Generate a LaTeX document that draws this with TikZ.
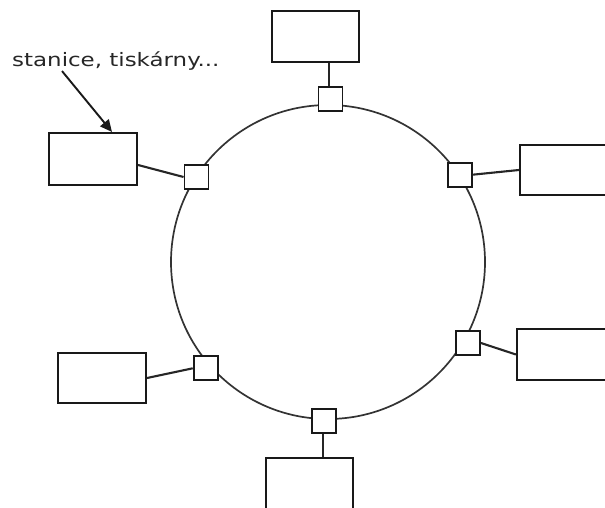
\documentclass[tikz,border=0pt]{standalone}
\usepackage{fontspec}
\setmainfont{DejaVu Sans}
\usetikzlibrary{arrows.meta}
\tikzset{
  station/.style={draw=black!90, line width=2.1pt, fill=white, minimum width=88pt, minimum height=51pt, inner sep=0pt},
  tap/.style={draw=black!90, line width=1.9pt, fill=white, minimum width=24pt, minimum height=24pt, inner sep=0pt},
  link/.style={draw=black!85, line width=2.1pt},
  ring/.style={draw=black!80, line width=1.7pt},
  pointer/.style={draw=black!90, line width=1.9pt, -{Triangle[length=12pt,width=11pt]}}
}
\begin{document}
\begin{tikzpicture}[x=1pt,y=-1pt]
\useasboundingbox (0,0) rectangle (605,508);
\clip (0,0) rectangle (605,508);
% ring
\draw[ring] (328,262) circle[radius=157];
% stations
\node[station, minimum width=87pt] (boxT)  at (315.5,36.5) {};
\node[station, minimum height=52pt] (boxL)  at (93,159) {};
\node[station, minimum width=90pt, minimum height=50pt] (boxRT) at (565,170) {};
\node[station, minimum width=90pt] (boxRB) at (562,354.5) {};
\node[station, minimum height=50pt] (boxLB) at (102,378) {};
\node[station, minimum width=87pt, minimum height=52pt] (boxB)  at (309.5,484) {};
% taps on the ring
\node[tap] (sqT)  at (330.5,99) {};
\node[tap] (sqL)  at (196.5,177) {};
\node[tap] (sqRT) at (459.7,174.7) {};
\node[tap] (sqRB) at (468,343) {};
\node[tap] (sqLB) at (205.7,368.3) {};
\node[tap] (sqB)  at (324,421.3) {};
% links
\draw[link] ([xshift=-1.5pt]sqT.north) -- ([xshift=-1.5pt]sqT.north |- boxT.south);
\draw[link] ([yshift=-6pt]boxL.east) -- (sqL.west);
\draw[link] (sqRT.east) -- (boxRT.west);
\draw[link] (sqRB.east) -- (boxRB.west);
\draw[link] (boxLB.east) -- (sqLB.west);
\draw[link] ([xshift=-1.3pt]sqB.south) -- ([xshift=-1.3pt]sqB.south |- boxB.north);
% label
\node[anchor=base west, inner sep=0pt, text=black!85, font=\fontsize{18.5}{20}\selectfont] (lbl) at (12,67) {\scalebox{1.24}[1]{stanice, tiskárny...}};
\draw[pointer] ([xshift=50pt]lbl.south west) -- ([xshift=19pt]boxL.north);
\end{tikzpicture}
\end{document}
